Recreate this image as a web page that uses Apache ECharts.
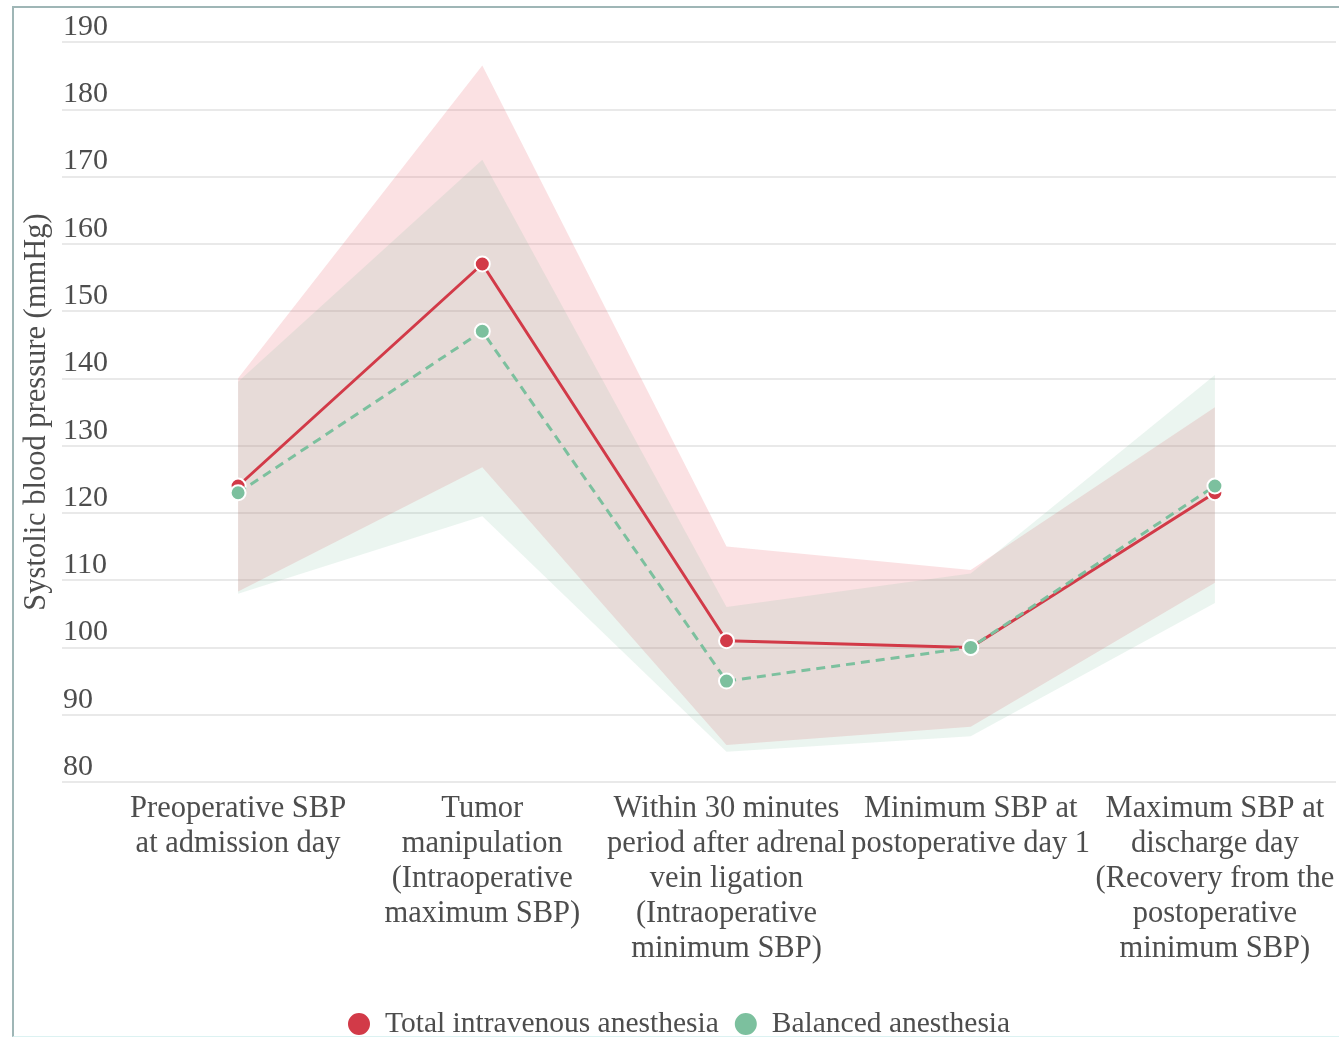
<!DOCTYPE html>
<html>
<head>
<meta charset="utf-8">
<title>Systolic blood pressure by anesthesia type</title>
<script src="https://cdn.jsdelivr.net/npm/echarts@6/dist/echarts.min.js"></script>
<style>
  html, body { margin: 0; padding: 0; background: #ffffff; }
  #chart { position: absolute; left: 0; top: 0; width: 1339px; height: 1037px; }
  #frame {
    position: absolute; left: 12px; top: 6px; width: 1327px; height: 1028px;
    border-top: 2px solid #9fb6b6; border-left: 2px solid #9fb6b6;
    border-bottom: 1px solid #dcf2f2; pointer-events: none;
  }
</style>
</head>
<body>
<div id="chart"></div>
<div id="frame"></div>
<script>
// Time points
const categories = [
  'Preoperative SBP\nat admission day',
  'Tumor\nmanipulation\n(Intraoperative\nmaximum SBP)',
  'Within 30 minutes\nperiod after adrenal\nvein ligation\n(Intraoperative\nminimum SBP)',
  'Minimum SBP at\npostoperative day 1',
  'Maximum SBP at\ndischarge day\n(Recovery from the\npostoperative\nminimum SBP)'
];

// Total intravenous anesthesia: mean and spread band (mmHg)
const tivaMean  = [124, 157, 101, 100, 123];
const tivaUpper = [140, 186.5, 115, 111.5, 135.7];
const tivaLower = [108.3, 126.8, 85.5, 88.2, 109.6];

// Balanced anesthesia: mean and spread band (mmHg)
const balMean  = [123, 147, 95, 100, 124];
const balUpper = [139.5, 172.5, 106, 111, 140.5];
const balLower = [108, 119.5, 84.5, 86.8, 106.6];

// Y-axis ticks
const yMin = 80, yMax = 190, yStep = 10;

const FONT = '"Liberation Serif", "DejaVu Serif", serif';
const TEXT = '#4d4d4d';
const RED = '#d23a48';
const GREEN = '#7cc09e';

const spread = (hi, lo) => hi.map((v, i) => +(v - lo[i]).toFixed(2));

const PLOT_TOP = 42, PLOT_BOTTOM = 255;

const option = {
  animation: false,
  backgroundColor: '#ffffff',
  textStyle: { fontFamily: FONT },
  legend: {
    data: ['Total intravenous anesthesia', 'Balanced anesthesia'],
    left: 341,
    top: 1004,
    icon: 'circle',
    itemWidth: 24,
    itemHeight: 24,
    itemGap: 14,
    textStyle: { fontFamily: FONT, fontSize: 29.5, color: TEXT, padding: [0, 0, 0, 9] }
  },
  grid: [
    { left: 62, right: 3, top: PLOT_TOP, bottom: PLOT_BOTTOM, outerBoundsMode: 'none' },
    { left: 116, right: 2, top: PLOT_TOP, bottom: PLOT_BOTTOM, outerBoundsMode: 'none' }
  ],
  xAxis: [
    { gridIndex: 0, type: 'value', show: false, min: 0, max: 1 },
    {
      gridIndex: 1,
      type: 'category',
      data: categories,
      boundaryGap: true,
      axisLine: { show: false },
      axisTick: { show: false },
      splitLine: { show: false },
      axisLabel: {
        interval: 0,
        margin: 9,
        fontFamily: FONT,
        fontSize: 30.5,
        lineHeight: 35,
        color: TEXT,
        align: 'center'
      }
    }
  ],
  yAxis: [
    {
      gridIndex: 0,
      type: 'value',
      min: yMin,
      max: yMax,
      interval: yStep,
      name: 'Systolic blood pressure (mmHg)',
      nameLocation: 'middle',
      nameGap: 10,
      nameTextStyle: { fontFamily: FONT, fontSize: 30.5, color: TEXT },
      axisLine: { show: false },
      axisTick: { show: false },
      splitLine: { show: true, lineStyle: { color: '#e2e2e2', width: 1.5 } },
      axisLabel: {
        inside: true,
        margin: 1,
        align: 'left',
        verticalAlign: 'bottom',
        fontFamily: FONT,
        fontSize: 30,
        lineHeight: 30,
        color: TEXT,
        padding: [0, 0, 0, 0]
      }
    },
    {
      gridIndex: 1,
      type: 'value',
      min: yMin,
      max: yMax,
      interval: yStep,
      show: false,
      splitLine: { show: false }
    }
  ],
  series: [
    // TIVA spread band
    {
      name: 'tivaBase', type: 'line', xAxisIndex: 1, yAxisIndex: 1,
      data: tivaLower, stack: 'tivaBand', symbol: 'none', silent: true,
      lineStyle: { opacity: 0 }
    },
    {
      name: 'tivaBand', type: 'line', xAxisIndex: 1, yAxisIndex: 1,
      data: spread(tivaUpper, tivaLower), stack: 'tivaBand', symbol: 'none', silent: true,
      lineStyle: { opacity: 0 },
      areaStyle: { color: 'rgba(236, 110, 118, 0.29)' }
    },
    // Balanced spread band
    {
      name: 'balBase', type: 'line', xAxisIndex: 1, yAxisIndex: 1,
      data: balLower, stack: 'balBand', symbol: 'none', silent: true,
      lineStyle: { opacity: 0 }
    },
    {
      name: 'balBand', type: 'line', xAxisIndex: 1, yAxisIndex: 1,
      data: spread(balUpper, balLower), stack: 'balBand', symbol: 'none', silent: true,
      lineStyle: { opacity: 0 },
      areaStyle: { color: 'rgba(110, 185, 150, 0.2)' }
    },
    // Mean lines
    {
      name: 'Total intravenous anesthesia', type: 'line', xAxisIndex: 1, yAxisIndex: 1,
      data: tivaMean,
      color: RED,
      symbol: 'circle', symbolSize: 15,
      lineStyle: { color: RED, width: 3 },
      itemStyle: { color: RED, borderColor: '#ffffff', borderWidth: 2 },
      z: 5
    },
    {
      name: 'Balanced anesthesia', type: 'line', xAxisIndex: 1, yAxisIndex: 1,
      data: balMean,
      color: GREEN,
      symbol: 'circle', symbolSize: 15,
      lineStyle: { color: GREEN, width: 3, type: [9, 6] },
      itemStyle: { color: GREEN, borderColor: '#ffffff', borderWidth: 2 },
      z: 6
    }
  ]
};

const chart = echarts.init(document.getElementById('chart'), null, { renderer: 'canvas' });
chart.setOption(option);
</script>
</body>
</html>
